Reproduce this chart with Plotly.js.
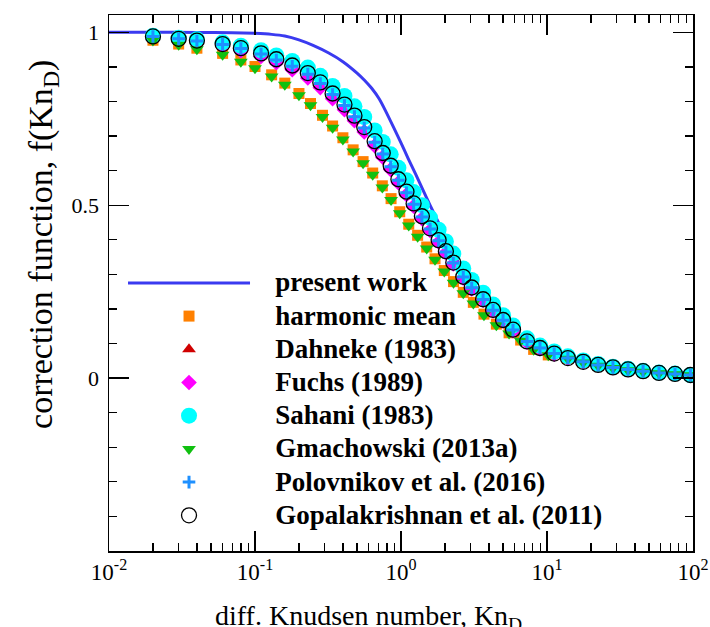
<!DOCTYPE html>
<html>
<head>
<meta charset="utf-8">
<script src="https://cdn.plot.ly/plotly-3.0.1.min.js"></script>
<style>
html,body{margin:0;padding:0;background:#fff;}
#chart{width:710px;height:627px;}
#chart .legendtext{font-size:27px !important;}
#chart .legend, #chart .legend g{clip-path:none !important;}
</style>
</head>
<body>
<div id="chart"></div>
<script>
// Knudsen number grids
var knUpper = [0.02,0.03,0.04,0.06,0.08,0.11,0.14,0.18,0.23,0.28,0.34,0.41,0.48,0.56,0.66,0.75,0.85,0.96,1.09,1.22,1.39,1.58,1.81,2.03,2.28,2.67,3.05,3.65,4.27,5.0,5.85,7.3,8.95,11.2,13.9,17.7,22.4,28.3,35.9,45.5,58.5,75.3,96];
var knLower = [0.02,0.03,0.04,0.06,0.08,0.10,0.13,0.16,0.20,0.24,0.29,0.34,0.40,0.47,0.55,0.64,0.745,0.855,0.98,1.13,1.30,1.50,1.71,1.98,2.29,2.67,3.13,3.70,4.5,5.5,6.6,8.1,10.2,13.9,17.7,22.4,28.3,35.9,45.5,58.5,75.3,96];
var knPresent = [0.01,0.02,0.04,0.07,0.1,0.13,0.16,0.2,0.25,0.32,0.4,0.5,0.56,0.63,0.71,0.79,0.89,1.0,1.12,1.26,1.41,1.58,1.78,2.0,2.5,3.16,4.0,5.0,6.3,7.9,10,15.8,25,40,63,100];

// correction function values
var fPresent = [1.0,1.0,0.9995,0.999,0.997,0.994,0.989,0.978,0.962,0.94,0.915,0.882,0.862,0.838,0.807,0.77,0.725,0.68,0.635,0.59,0.545,0.5,0.455,0.41,0.33,0.26,0.205,0.16,0.125,0.097,0.076,0.048,0.031,0.02,0.013,0.009];
var fHarmonic = [0.977,0.966,0.954,0.939,0.920,0.901,0.877,0.853,0.823,0.794,0.760,0.729,0.695,0.660,0.626,0.593,0.556,0.519,0.481,0.445,0.413,0.379,0.345,0.311,0.279,0.248,0.219,0.185,0.156,0.131,0.110,0.083,0.067,0.057,0.046,0.037,0.030,0.024,0.019,0.015,0.011,0.009];
var fDahneke = [0.986,0.979,0.973,0.963,0.950,0.934,0.916,0.897,0.874,0.846,0.814,0.782,0.750,0.718,0.677,0.644,0.608,0.569,0.534,0.501,0.464,0.430,0.396,0.364,0.332,0.291,0.260,0.226,0.195,0.166,0.138,0.105,0.086,0.070,0.057,0.046,0.037,0.030,0.024,0.020,0.015,0.012,0.009];
var fFuchs = [0.984,0.977,0.971,0.960,0.947,0.930,0.912,0.892,0.868,0.840,0.808,0.776,0.744,0.712,0.672,0.639,0.603,0.565,0.530,0.497,0.461,0.427,0.393,0.362,0.330,0.289,0.258,0.225,0.194,0.165,0.137,0.104,0.085,0.069,0.057,0.046,0.037,0.030,0.024,0.019,0.015,0.012,0.009];
var fSahani = [0.990,0.984,0.980,0.971,0.961,0.948,0.933,0.917,0.898,0.874,0.845,0.816,0.786,0.755,0.716,0.683,0.647,0.608,0.572,0.538,0.500,0.464,0.429,0.395,0.360,0.317,0.284,0.247,0.213,0.182,0.152,0.115,0.094,0.077,0.063,0.051,0.041,0.033,0.027,0.021,0.016,0.013,0.009];
var fGmachowski = [0.976,0.964,0.951,0.935,0.915,0.896,0.872,0.848,0.818,0.789,0.755,0.724,0.690,0.655,0.621,0.588,0.551,0.515,0.477,0.441,0.409,0.375,0.342,0.308,0.276,0.245,0.216,0.182,0.153,0.129,0.108,0.082,0.066,0.056,0.045,0.036,0.029,0.023,0.018,0.014,0.011,0.008];
var fPolovnikov = [0.988,0.981,0.975,0.965,0.953,0.937,0.920,0.902,0.879,0.852,0.820,0.788,0.756,0.723,0.682,0.648,0.611,0.572,0.536,0.503,0.466,0.431,0.397,0.365,0.333,0.292,0.261,0.227,0.196,0.167,0.139,0.106,0.087,0.071,0.058,0.047,0.038,0.031,0.025,0.020,0.015,0.012,0.009];
var fGopalakrishnan = [0.988,0.981,0.976,0.966,0.954,0.939,0.922,0.904,0.882,0.855,0.823,0.791,0.759,0.726,0.685,0.651,0.614,0.575,0.539,0.505,0.468,0.433,0.399,0.367,0.334,0.293,0.262,0.228,0.197,0.168,0.140,0.106,0.087,0.071,0.058,0.047,0.038,0.031,0.025,0.020,0.015,0.012,0.009];

var xTickVals = [0.01, 0.1, 1, 10, 100];
var xTickText = ['10<sup>-2</sup>', '10<sup>-1</sup>', '10<sup>0</sup>', '10<sup>1</sup>', '10<sup>2</sup>'];
var yTickVals = [0, 0.5, 1];
var yTickText = ['0', '0.5', '1'];

var SERIF = 'Liberation Serif';
var PAD = '\u00a0\u00a0\u00a0';

function sc(name, x, y, marker, grp) {
  return {type:'scatter', mode:'markers', name:PAD + '<b>' + name + '</b>', x:x, y:y, marker:marker,
          legendgroup:grp, cliponaxis:true, hoverinfo:'skip'};
}

var traces = [
  {type:'scatter', mode:'lines', name:PAD + '<b>present work</b>', x:knPresent, y:fPresent,
   line:{color:'#3a3af0', width:3, shape:'spline', smoothing:0.6}, legendgroup:'g0'},
  sc('harmonic mean', knLower, fHarmonic, {symbol:'square', size:11, color:'#ff8000'}, 'g1'),
  sc('Dahneke (1983)', knUpper, fDahneke, {symbol:'triangle-up', size:12, color:'#d00000'}, 'g2'),
  sc('Fuchs (1989)', knUpper, fFuchs, {symbol:'diamond', size:12, color:'#ff00ff'}, 'g3'),
  sc('Sahani (1983)', knUpper, fSahani, {symbol:'circle', size:16, color:'#00ffff'}, 'g4'),
  sc('Gmachowski (2013a)', knLower, fGmachowski, {symbol:'triangle-down', size:12, color:'#10c010'}, 'g5'),
  sc('Polovnikov et al. (2016)', knUpper, fPolovnikov, {symbol:'cross-thin-open', size:9, color:'#1e90ff', line:{color:'#1e90ff', width:3}}, 'g6'),
  sc('Gopalakrishnan et al. (2011)', knUpper, fGopalakrishnan, {symbol:'circle-open', size:15, color:'#000000', line:{color:'#000000', width:1.3}}, 'g7')
];

var layout = {
  width:710, height:627,
  margin:{l:109, r:17, t:15, b:76},
  paper_bgcolor:'#ffffff', plot_bgcolor:'#ffffff',
  font:{family:SERIF, color:'#000'},
  showlegend:true,
  legend:{x:0.024, y:0.539, xanchor:'left', yanchor:'top', bgcolor:'rgba(0,0,0,0)',
          borderwidth:0, itemwidth:122, tracegroupgap:1.6, traceorder:'grouped',
          font:{family:SERIF, size:22, color:'#000'}},
  xaxis:{type:'log', range:[-2, 2], tickvals:xTickVals, ticktext:xTickText,
         showline:true, linecolor:'#000', linewidth:1.5, mirror:'ticks',
         ticks:'inside', ticklen:20, tickwidth:1.3, tickcolor:'#000',
         showgrid:false, zeroline:false, ticklabeloverflow:'allow',
         tickfont:{family:SERIF, size:23, color:'#000'},
         minor:{dtick:'D1', ticks:'inside', ticklen:8, tickwidth:1.3, tickcolor:'#000', showgrid:false}},
  yaxis:{range:[-0.5, 1.05], tickvals:yTickVals, ticktext:yTickText,
         showline:true, linecolor:'#000', linewidth:1.5, mirror:'ticks',
         ticks:'inside', ticklen:20, tickwidth:1.3, tickcolor:'#000',
         showgrid:false, zeroline:false, ticklabelstandoff:4,
         tickfont:{family:SERIF, size:22, color:'#000'},
         minor:{dtick:0.1, tick0:0, ticks:'inside', ticklen:8, tickwidth:1.3, tickcolor:'#000', showgrid:false}},
  annotations:[
    {text:'correction function, f(Kn<sub>D</sub>)', xref:'paper', yref:'paper',
     x:-0.113, y:0.571, xanchor:'center', yanchor:'middle', textangle:-90, showarrow:false,
     font:{family:SERIF, size:34, color:'#000'}},
    {text:'diff. Knudsen number, Kn<sub>D</sub>', xref:'paper', yref:'paper',
     x:0.4435, y:-0.088, xanchor:'center', yanchor:'top', showarrow:false,
     font:{family:SERIF, size:28, color:'#000'}}
  ]
};

Plotly.newPlot('chart', traces, layout, {displayModeBar:false, staticPlot:true});
</script>
</body>
</html>
